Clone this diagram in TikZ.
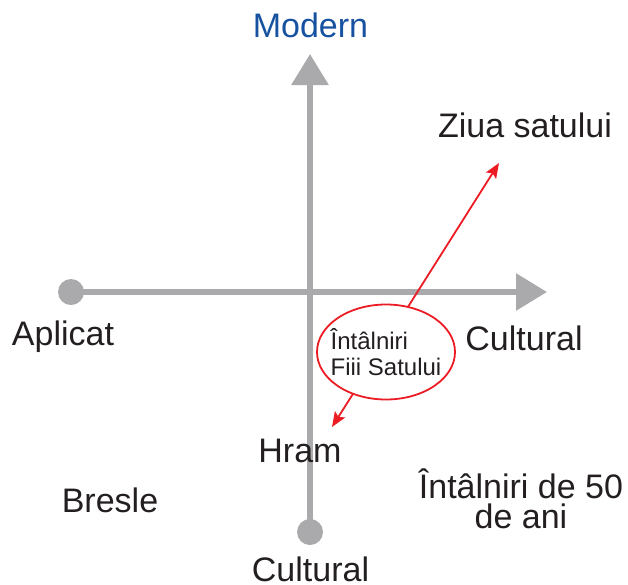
\documentclass[tikz,border=0pt]{standalone}
\usepackage{fontspec}
\setmainfont{Liberation Sans}
\usetikzlibrary{arrows.meta,shapes.geometric}
\definecolor{axegris}{RGB}{170,170,172}
\definecolor{bleumodern}{RGB}{22,82,160}
\definecolor{texte}{RGB}{35,31,32}
\definecolor{rouge}{RGB}{236,28,36}
\begin{document}
\begin{tikzpicture}[x=1pt, y=-1pt,
  axe/.style={line width=6pt, axegris, -{Triangle[width=36pt,length=31pt]}},
  pointe/.tip={Stealth[length=15pt,width=12pt,inset=3pt]},
  lbl/.style={font=\fontsize{34}{30}\selectfont, text=texte, inner sep=0pt, anchor=base, align=center}]
\useasboundingbox (0,0) rectangle (628,584);
% Axes
\coordinate (gauche) at (71,292);
\coordinate (droite) at (547,292);
\coordinate (haut) at (310,54);
\coordinate (bas) at (310,532);
\draw[axe] (gauche) -- (droite);
\draw[axe] (bas) -- (haut);
\fill[axegris] (gauche) circle (13);
\fill[axegris] (bas) circle (13);
% Fleche rouge
\coordinate (f1) at (332,427);
\coordinate (f2) at (499,163);
\draw[rouge, line width=1.8pt, pointe-pointe] (f1) -- (f2);
\node[ellipse, draw=rouge, line width=1.8pt, fill=white, minimum width=138pt, minimum height=95pt,
  inner xsep=-7pt, inner ysep=0pt, align=left, text=texte, font=\fontsize{24}{26}\selectfont] (fiii) at (386,352) {Întâlniri\\Fiii Satului};
% Etiquettes
\node[lbl, text=bleumodern] (modern) at (310.5,37) {Modern};
\node[lbl] (ziua) at (525,137) {Ziua satului};
\node[lbl] (aplicat) at (63,345) {Aplicat};
\node[lbl] (cultd) at (524,350) {Cultural};
\node[lbl] (hram) at (300,462) {Hram};
\node[lbl] (bresle) at (110,512) {Bresle};
\node[lbl] (intalniri) at (521,528) {Întâlniri de 50\\de ani};
\node[lbl] (cultb) at (310.5,581) {Cultural};
\end{tikzpicture}
\end{document}
